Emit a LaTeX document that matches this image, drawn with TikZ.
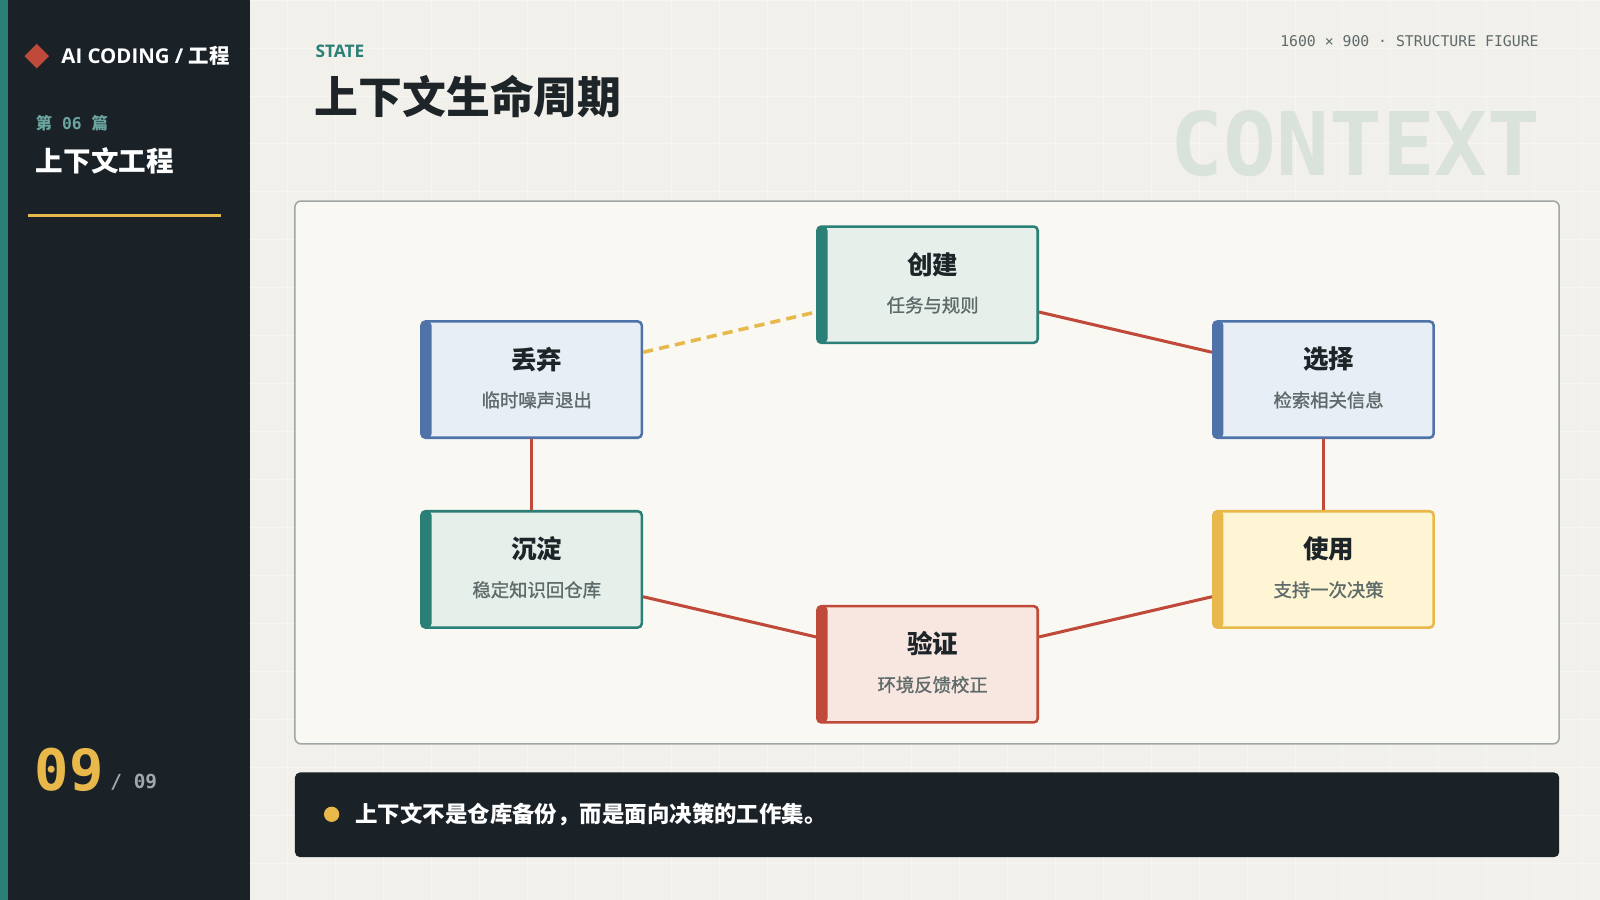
\documentclass[tikz,border=0pt]{standalone}
\usepackage{fontspec}
\setmainfont{Noto Sans CJK SC}
\setmonofont{DejaVu Sans Mono}
\newfontfamily\cjk{Noto Sans CJK SC}
\newfontfamily\cjkm[FakeBold=1.2]{Noto Sans CJK SC}
\newfontfamily\lat{Open Sans}
\usetikzlibrary{calc}
\definecolor{dark}{HTML}{1A2228}
\definecolor{teal}{HTML}{2A7F76}
\definecolor{bg}{HTML}{F2F0EA}
\definecolor{panel}{HTML}{F9F8F3}
\definecolor{redc}{HTML}{C04A3A}
\definecolor{bluec}{HTML}{4F72A8}
\definecolor{yel}{HTML}{E8B84A}
\definecolor{fteal}{HTML}{E6EFEA}
\definecolor{fblue}{HTML}{E8EEF6}
\definecolor{fyel}{HTML}{FDF5D3}
\definecolor{fred}{HTML}{F8E6E0}
\definecolor{txt}{HTML}{1E2529}
\definecolor{sub}{HTML}{5E6B6A}
\tikzset{
 box/.style={draw=#1,line width=2.5pt,rounded corners=4pt,minimum width=216pt,minimum height=114pt,inner sep=0pt},
 edge/.style={draw=redc,line width=3pt},
}
\newcommand{\stage}[7]{% name,x,y,col,fill,title,sub
 \node[box=#4,fill=#5,path picture={\fill[#4] (path picture bounding box.north west) rectangle ($(path picture bounding box.south west)+(10,0)$);}] (#1) at (#2,#3) {};
 \node[font=\cjk\bfseries\fontsize{25}{25}\selectfont,text=txt] at ($(#1.center)+(5,-20)$) {#6};
 \node[font=\cjkm\fontsize{18}{18}\selectfont,text=sub] at ($(#1.center)+(5,20)$) {#7};
}
\begin{document}
\begin{tikzpicture}[x=1pt,y=-1pt]
\useasboundingbox (0,0) rectangle (1568,882);
\fill[bg] (0,0) rectangle (1568,882);
\foreach \i in {282,329,...,1568} \draw[black!4,line width=0.8pt] (\i,0)--(\i,882);
\foreach \i in {0,47,...,882} \draw[black!4,line width=0.8pt] (245,\i)--(1568,\i);
\fill[dark] (0,0) rectangle (245,882);
\fill[teal] (0,0) rectangle (8,882);
\fill[redc] (36,43) -- (48,55) -- (36,67) -- (24,55) -- cycle;
\node[anchor=west,text=white,font=\lat\bfseries\fontsize{20}{20}\selectfont,inner sep=0] (brand) at (60,55) {AI CODING / {\cjk 工程}};
\node[anchor=west,text=teal!70!white,font=\ttfamily\bfseries\fontsize{16}{16}\selectfont,inner sep=0] (ep) at (35,121) {{\cjk 第} 06 {\cjk 篇}};
\node[anchor=west,text=white,font=\cjk\bfseries\fontsize{27}{27}\selectfont,inner sep=0] (sect) at (35,158) {上下文工程};
\draw[yel,line width=3pt] (27,211)--(217,211);
\node[anchor=base west,text=yel,font=\ttfamily\bfseries\fontsize{56}{56}\selectfont,inner sep=0] (pg) at (34,775) {09};
\node[anchor=base west,text=white!60!dark,font=\ttfamily\bfseries\fontsize{19}{19}\selectfont,inner sep=0] (pt) at (108,773) {/ 09};
\node[anchor=west,text=teal,font=\lat\bfseries\fontsize{17}{17}\selectfont,inner sep=0] (st) at (309,50) {STATE};
\node[anchor=west,text=txt,font=\cjk\bfseries\fontsize{43}{43}\selectfont,inner sep=0] (ti) at (308,95) {上下文生命周期};
\node[anchor=east,text=sub,font=\ttfamily\fontsize{14.5}{14.5}\selectfont,inner sep=0] (fig) at (1508,40) {1600 × 900 · STRUCTURE FIGURE};
\node[anchor=east,text=teal!12!bg,font=\ttfamily\bfseries\fontsize{86}{86}\selectfont,inner sep=0] (ctx) at (1510,141) {CONTEXT};
\draw[fill=panel,draw=sub!60,line width=1.5pt,rounded corners=6pt] (289,197) rectangle (1528,729);
\stage{cj}{909}{279}{teal}{fteal}{创建}{任务与规则}
\stage{xz}{1297}{372}{bluec}{fblue}{选择}{检索相关信息}
\stage{sy}{1297}{558}{yel}{fyel}{使用}{支持一次决策}
\stage{yz}{909}{651}{redc}{fred}{验证}{环境反馈校正}
\stage{cd}{521}{558}{teal}{fteal}{沉淀}{稳定知识回仓库}
\stage{dq}{521}{372}{bluec}{fblue}{丢弃}{临时噪声退出}
\draw[edge] ($(cj.north east)!0.73!(cj.south east)$) -- ($(xz.north west)!0.27!(xz.south west)$);
\draw[edge] (xz.south) -- (sy.north);
\draw[edge] ($(sy.north west)!0.73!(sy.south west)$) -- ($(yz.north east)!0.27!(yz.south east)$);
\draw[edge] ($(yz.north west)!0.27!(yz.south west)$) -- ($(cd.north east)!0.73!(cd.south east)$);
\draw[edge] (cd.north) -- (dq.south);
\draw[yel,line width=3.5pt,dash pattern=on 10pt off 6pt] ($(dq.north east)!0.27!(dq.south east)$) -- ($(cj.north west)!0.73!(cj.south west)$);
\fill[dark,rounded corners=5pt] (289,757) rectangle (1528,840);
\fill[yel] (325,798) circle (7.5);
\node[anchor=west,text=white,font=\cjk\bfseries\fontsize{22}{22}\selectfont,inner sep=0] (msg) at (348,798) {上下文不是仓库备份，而是面向决策的工作集。};
\end{tikzpicture}
\end{document}
